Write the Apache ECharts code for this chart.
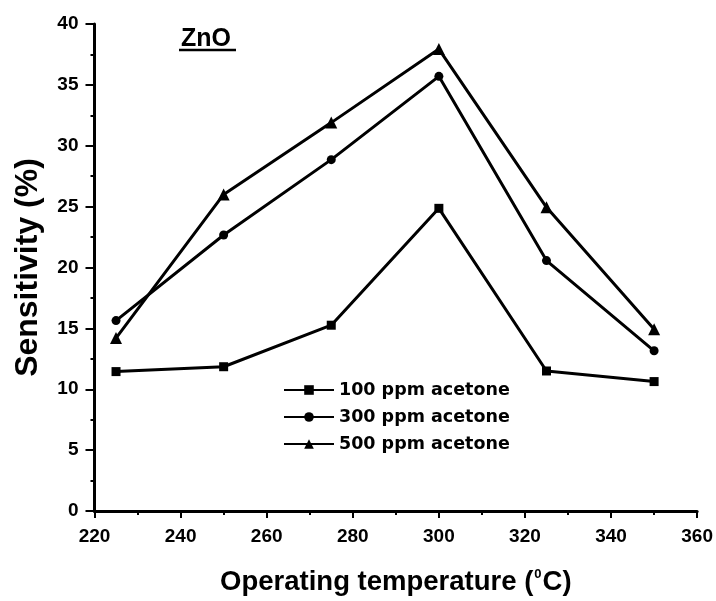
<!DOCTYPE html>
<html><head><meta charset="utf-8">
<script src="https://cdn.jsdelivr.net/npm/echarts@6/dist/echarts.min.js"></script>
<style>html,body{margin:0;padding:0;background:#fff}#c{width:716px;height:601px}</style>
</head><body><div id="c"></div>
<script>
const temperatures = [225, 250, 275, 300, 325, 350];
const ppm100 = [11.45, 11.85, 15.26, 24.86, 11.5, 10.63];
const ppm300 = [15.64, 22.67, 28.86, 35.7, 20.57, 13.16];
const ppm500 = [14.2, 26.0, 31.9, 37.94, 24.94, 14.93];
const seriesNames = ['100 ppm acetone', '300 ppm acetone', '500 ppm acetone'];
const font = 'Liberation Sans, Arial, sans-serif';

const chart = echarts.init(document.getElementById('c'), null, {renderer: 'canvas'});
function mk(name, vals, symbol, size) {
  return {
    name, type: 'line', data: temperatures.map((t, i) => [t, vals[i]]),
    symbol, symbolSize: size, showSymbol: true,
    lineStyle: {color: '#000', width: 3}, itemStyle: {color: '#000'},
    animation: false
  };
}
chart.setOption({
  backgroundColor: '#fff',
  title: {
    text: 'ZnO', left: 176, top: 22,
    textStyle: {fontFamily: font, fontSize: 25, fontWeight: 'bold', color: '#000'}
  },
  graphic: [{
    type: 'line', shape: {x1: 179, y1: 50, x2: 236, y2: 50},
    style: {stroke: '#000', lineWidth: 2.5}
  }],
  grid: {left: 94.5, right: 17, top: 24, bottom: 87.7, containLabel: false},
  legend: {
    left: 283, top: 381, padding: 0, orient: 'vertical', itemWidth: 50, itemHeight: 12, itemGap: 9,
    data: seriesNames,
    textStyle: {fontFamily: 'DejaVu Sans, sans-serif', fontSize: 17.5, fontWeight: 'bold', color: '#000'}
  },
  xAxis: {
    type: 'value', min: 220, max: 360, interval: 20,
    name: 'Operating temperature ({sup|0}C)', nameLocation: 'middle', nameGap: 57,
    nameTextStyle: {fontFamily: font, fontSize: 27.5, fontWeight: 'bold', color: '#000',
      rich: {sup: {fontFamily: font, fontSize: 13, fontWeight: 'bold', verticalAlign: 'top', padding: [0, 1, 12, 1], color: '#000'}}},
    axisLine: {lineStyle: {color: '#000', width: 3}},
    axisTick: {inside: false, length: 7, lineStyle: {color: '#000', width: 2}},
    minorTick: {show: true, splitNumber: 2, length: 4, lineStyle: {color: '#000', width: 2}},
    axisLabel: {fontFamily: font, fontSize: 19, fontWeight: 'bold', color: '#000', margin: 16},
    splitLine: {show: false}
  },
  yAxis: {
    type: 'value', min: 0, max: 40, interval: 5,
    name: 'Sensitivity (%)', nameLocation: 'middle', nameGap: 50,
    nameTextStyle: {fontFamily: font, fontSize: 32, fontWeight: 'bold', color: '#000'},
    axisLine: {show: true, lineStyle: {color: '#000', width: 3}},
    axisTick: {show: true, inside: false, length: 9, lineStyle: {color: '#000', width: 2}},
    minorTick: {show: true, splitNumber: 2, length: 4, lineStyle: {color: '#000', width: 2}},
    axisLabel: {fontFamily: font, fontSize: 19, fontWeight: 'bold', color: '#000', margin: 16},
    splitLine: {show: false}
  },
  series: [
    mk(seriesNames[0], ppm100, 'rect', 9),
    mk(seriesNames[1], ppm300, 'circle', 9),
    mk(seriesNames[2], ppm500, 'triangle', 12)
  ]
});
</script></body></html>
